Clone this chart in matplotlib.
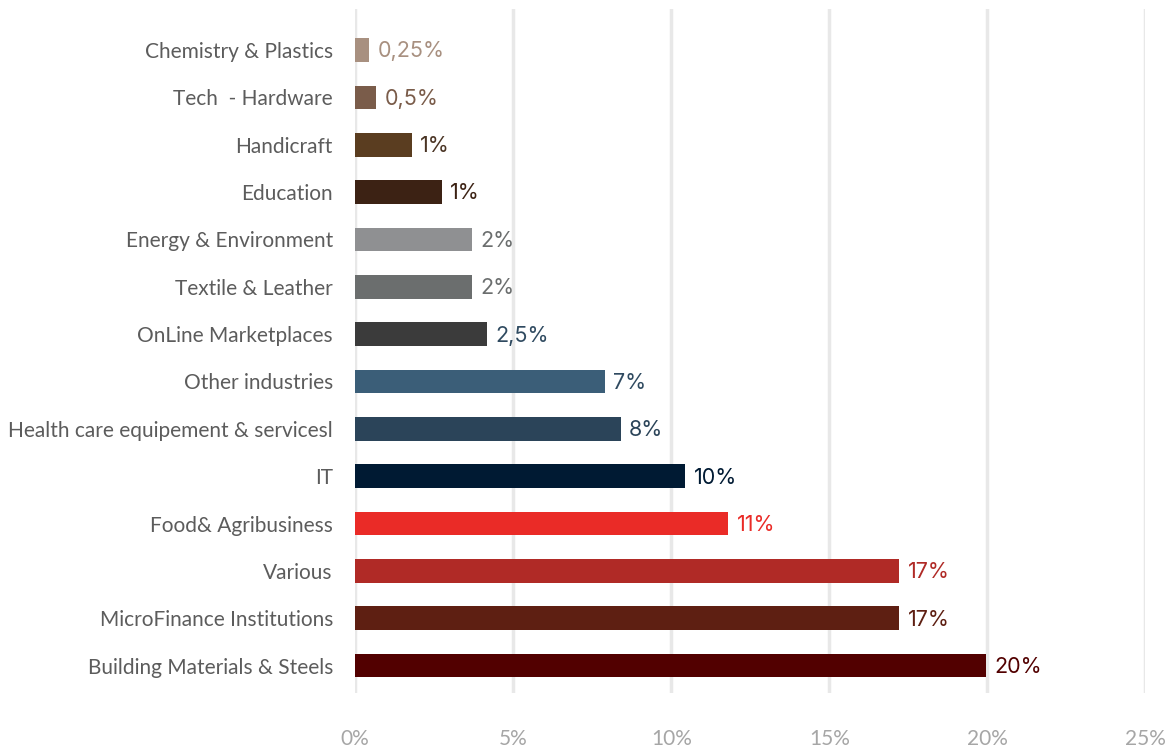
import matplotlib
matplotlib.use("Agg")
import matplotlib.pyplot as plt

categories = [
    "Building Materials & Steels",
    "MicroFinance Institutions",
    "Various",
    "Food& Agribusiness",
    "IT",
    "Health care equipement & servicesl",
    "Other industries",
    "OnLine Marketplaces",
    "Textile & Leather",
    "Energy & Environment",
    "Education",
    "Handicraft",
    "Tech  - Hardware",
    "Chemistry & Plastics",
]
values = [19.97, 17.22, 17.22, 11.8, 10.44, 8.4, 7.9, 4.18, 3.7, 3.7, 2.75, 1.8, 0.66, 0.44]
value_labels = ["20%", "17%", "17%", "11%", "10%", "8%", "7%", "2,5%", "2%", "2%",
                "1%", "1%", "0,5%", "0,25%"]
bar_colors = ["#520000", "#5e1f12", "#b02a26", "#ea2b27", "#001a33", "#2b4459",
              "#3b5e78", "#3b3b3b", "#6b6e6e", "#8f9092", "#3c2214", "#5a3d20",
              "#7a5c4a", "#a89080"]
label_colors = ["#520000", "#5e1f12", "#b02a26", "#ea2b27", "#001a33", "#2b4459",
                "#2f4a60", "#2f4a60", "#6b6e6e", "#6b6e6e", "#3c2214", "#4a3424",
                "#7a5c4a", "#a89080"]
x_ticks = [0, 5, 10, 15, 20, 25]
x_tick_labels = ["0%", "5%", "10%", "15%", "20%", "25%"]

fig = plt.figure(figsize=(11.76, 7.48), dpi=100)
ax = fig.add_axes([0.302, 0.0735, 0.672, 0.9144])

ypos = list(range(len(categories)))
ax.barh(ypos, values, height=0.5, color=bar_colors, zorder=3)

for y, v, lab, c in zip(ypos, values, value_labels, label_colors):
    ax.annotate(lab, xy=(v, y), xytext=(6, -1), textcoords="offset points",
                ha="left", va="center", fontsize=15.5, color=c,
                family=["Inter", "DejaVu Sans"])

ax.set_xlim(0, 25)
ax.set_ylim(-0.58, 13.866)
ax.set_xticks(x_ticks)
ax.set_xticklabels(x_tick_labels, fontsize=15, color="#a6a6a6",
                   family=["Lato", "DejaVu Sans"])
ax.set_yticks(ypos)
ax.set_yticklabels(categories, fontsize=15, color="#5c5c5c",
                   family=["Lato", "DejaVu Sans"])
ax.tick_params(axis="x", length=0, pad=26)
ax.tick_params(axis="y", length=0, pad=16)
ax.grid(axis="x", color="#e8e8e8", linewidth=2.5, zorder=0)
ax.grid(axis="y", visible=False)
for s in ax.spines.values():
    s.set_visible(False)

fig.savefig("out.png", dpi=100, facecolor="white")
